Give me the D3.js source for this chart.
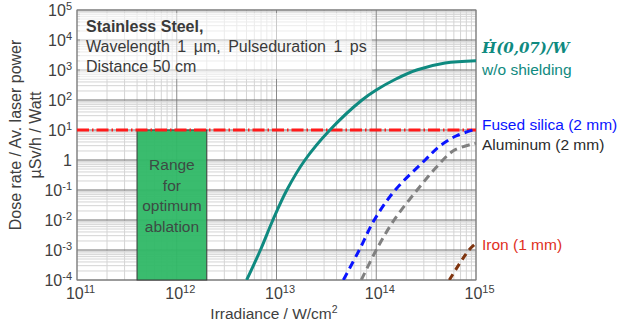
<!DOCTYPE html>
<html>
<head>
<meta charset="utf-8">
<script src="https://cdn.jsdelivr.net/npm/d3@7"></script>
<style>
  body { margin: 0; background: #fff; }
  svg { font-family: "Liberation Sans", Arial, sans-serif; }
</style>
</head>
<body>
<svg id="chart" width="630" height="326"></svg>
<script>
// tick values
const xTicks = [1e11, 1e12, 1e13, 1e14, 1e15];
const yTicks = [1e5, 1e4, 1e3, 1e2, 1e1, 1, 1e-1, 1e-2, 1e-3, 1e-4];

// dose rate curves (irradiance W/cm2, uSv/h per W)
const noShieldX = [5.02e12, 6.9e12, 9.2e12, 1.27e13, 1.93e13, 3.43e13, 7.2e13, 1e14, 1.54e14, 2.54e14, 4.9e14, 1e15];
const noShieldY = [1e-4, 1e-3, 1e-2, 0.1, 1, 10, 100, 215, 482, 1000, 1710, 2040];

const silicaX = [4.68e13, 6.76e13, 9.55e13, 1.55e14, 3.09e14, 4.27e14, 6.31e14, 1e15];
const silicaY = [1e-4, 1e-3, 1e-2, 0.1, 1, 2.8, 6.3, 10.7];

const aluX = [7.08e13, 1e14, 1.51e14, 2.57e14, 3.98e14, 6.03e14, 1e15];
const aluY = [1e-4, 1e-3, 1e-2, 0.1, 0.56, 2.1, 3.6];

const ironX = [5.4e14, 8.5e14, 1e15];
const ironY = [1e-4, 1e-3, 1.66e-3];

// limit line and ablation range
const limitValue = 10;
const ablationRange = [4e11, 2e12];

const svg = d3.select("#chart");

const x = d3.scaleLog().domain([1e11, 1e15]).range([77, 476]);
const y = d3.scaleLog().domain([1e-4, 1e5]).range([280, 10]);

// grid
const grid = svg.append("g");
let minorX = [], minorY = [];
for (let e = 11; e < 15; e++) for (let k = 2; k < 10; k++) minorX.push(k * Math.pow(10, e));
for (let e = -4; e < 5; e++) for (let k = 2; k < 10; k++) minorY.push(k * Math.pow(10, e));

grid.selectAll(".mx").data(minorX).enter().append("line")
    .attr("x1", d => x(d)).attr("x2", d => x(d))
    .attr("y1", 10).attr("y2", 280)
    .attr("stroke", "#d4d4d4").attr("stroke-width", 1);
grid.selectAll(".my").data(minorY).enter().append("line")
    .attr("x1", 77).attr("x2", 476)
    .attr("y1", d => y(d)).attr("y2", d => y(d))
    .attr("stroke", "#d4d4d4").attr("stroke-width", 1);
grid.selectAll(".Mx").data(xTicks).enter().append("line")
    .attr("x1", d => x(d)).attr("x2", d => x(d))
    .attr("y1", 10).attr("y2", 280)
    .attr("stroke", "#8a8a8a").attr("stroke-width", 1);
grid.selectAll(".My").data(yTicks).enter().append("line")
    .attr("x1", 77).attr("x2", 476)
    .attr("y1", d => y(d)).attr("y2", d => y(d))
    .attr("stroke", "#707070").attr("stroke-width", 1);

// whitish haze behind title
svg.append("rect")
    .attr("x", 80).attr("y", 13).attr("width", 292).attr("height", 66)
    .attr("fill", "#fff").attr("opacity", 0.55);

// frame
svg.append("rect")
    .attr("x", 77).attr("y", 10).attr("width", 399).attr("height", 270)
    .attr("fill", "none").attr("stroke", "#808080").attr("stroke-width", 1);

// ablation range box
svg.append("rect")
    .attr("x", x(ablationRange[0]))
    .attr("y", y(limitValue))
    .attr("width", x(ablationRange[1]) - x(ablationRange[0]))
    .attr("height", y(1e-4) - y(limitValue))
    .attr("fill", "#2fb866").attr("fill-opacity", 0.95)
    .attr("stroke", "#3c3c3c").attr("stroke-width", 1);

const boxText = svg.append("text")
    .attr("text-anchor", "middle")
    .attr("font-size", 15.5)
    .attr("fill", "#3d4a44");
["Range", "for", "optimum", "ablation"].forEach((t, i) => {
  boxText.append("tspan")
      .attr("x", (x(ablationRange[0]) + x(ablationRange[1])) / 2)
      .attr("y", 170 + i * 20.5)
      .text(t);
});

// limit line
svg.append("line")
    .attr("x1", x(1e11)).attr("x2", x(1e15))
    .attr("y1", y(limitValue)).attr("y2", y(limitValue))
    .attr("stroke", "#ff1a1a").attr("stroke-width", 3.2)
    .attr("stroke-dasharray", "12,3,1.5,3");

// curves
svg.append("clipPath").attr("id", "clip")
  .append("rect").attr("x", 77).attr("y", 10).attr("width", 399).attr("height", 270);

const line = d3.line()
    .x(d => x(d[0]))
    .y(d => y(d[1]))
    .curve(d3.curveCatmullRom.alpha(0.5));

const series = [
  { xs: noShieldX, ys: noShieldY, color: "#0f8a80", dash: null },
  { xs: silicaX, ys: silicaY, color: "#0a14ff", dash: "8,5" },
  { xs: aluX, ys: aluY, color: "#808080", dash: "8,5" },
  { xs: ironX, ys: ironY, color: "#7f3510", dash: "7,5" }
];

series.forEach(s => {
  svg.append("path")
      .datum(d3.zip(s.xs, s.ys))
      .attr("clip-path", "url(#clip)")
      .attr("fill", "none")
      .attr("stroke", s.color)
      .attr("stroke-width", 3)
      .attr("stroke-dasharray", s.dash)
      .attr("d", line);
});

// axes
const xAxis = svg.append("g")
    .attr("transform", "translate(0,280)")
    .call(d3.axisBottom(x).tickValues(xTicks).tickSize(0).tickPadding(8));
xAxis.select(".domain").remove();
xAxis.selectAll("text").each(function(d) {
  const t = d3.select(this);
  t.text("").attr("font-size", 16).attr("fill", "#404040").attr("dx", 3)
   .attr("font-family", "Liberation Sans, Arial, sans-serif");
  t.append("tspan").text("10");
  t.append("tspan").attr("font-size", 11).attr("dy", -6).text(Math.round(Math.log10(d)));
});

const yAxis = svg.append("g")
    .attr("transform", "translate(77,0)")
    .call(d3.axisLeft(y).tickValues(yTicks).tickSize(0).tickPadding(5));
yAxis.select(".domain").remove();
yAxis.selectAll("text").each(function(d) {
  const t = d3.select(this);
  const e = Math.round(Math.log10(d));
  t.text("").attr("font-size", 16).attr("fill", "#404040")
   .attr("font-family", "Liberation Sans, Arial, sans-serif");
  if (e === 0) {
    t.append("tspan").text("1");
  } else {
    t.append("tspan").text("10");
    t.append("tspan").attr("font-size", 11).attr("dy", -6).text(e);
  }
});

// axis titles
const xt = svg.append("text")
    .attr("x", 274).attr("y", 319)
    .attr("text-anchor", "middle")
    .attr("font-size", 15.5).attr("fill", "#404040");
xt.append("tspan").text("Irradiance  / W/cm");
xt.append("tspan").attr("font-size", 10.5).attr("dy", -6).text("2");

svg.append("text")
    .attr("transform", "translate(21,135) rotate(-90)")
    .attr("text-anchor", "middle")
    .attr("font-size", 16).attr("fill", "#404040")
    .text("Dose rate / Av. laser power");
svg.append("text")
    .attr("transform", "translate(41,135) rotate(-90)")
    .attr("text-anchor", "middle")
    .attr("font-size", 16).attr("fill", "#404040")
    .text("µSv/h / Watt");

// title block
svg.append("text").attr("x", 86).attr("y", 32)
    .attr("font-size", 16).attr("font-weight", "bold").attr("fill", "#3a3a3a")
    .text("Stainless Steel,");
svg.append("text").attr("x", 86).attr("y", 52)
    .attr("font-size", 16).attr("fill", "#3a3a3a")
    .attr("word-spacing", 3)
    .text("Wavelength 1 µm, Pulseduration 1 ps");
svg.append("text").attr("x", 86).attr("y", 72)
    .attr("font-size", 16).attr("fill", "#3a3a3a")
    .text("Distance 50 cm");

// series labels
svg.append("text").attr("x", 482).attr("y", 53)
    .attr("font-family", "DejaVu Serif, serif")
    .attr("font-size", 15).attr("font-weight", "bold").attr("font-style", "italic")
    .attr("fill", "#0f8a80")
    .text("\u1E22(0,07)/W");
svg.append("text").attr("x", 482).attr("y", 75)
    .attr("font-size", 15.5).attr("fill", "#0f8a80")
    .text("w/o shielding");
svg.append("text").attr("x", 482).attr("y", 130)
    .attr("font-size", 15.5).attr("fill", "#0a14ff")
    .text("Fused silica (2 mm)");
svg.append("text").attr("x", 482).attr("y", 150)
    .attr("font-size", 15.5).attr("fill", "#2a2a2a")
    .text("Aluminum (2 mm)");
svg.append("text").attr("x", 482).attr("y", 250)
    .attr("font-size", 15.5).attr("fill", "#e0301e")
    .text("Iron (1 mm)");
</script>
</body>
</html>
